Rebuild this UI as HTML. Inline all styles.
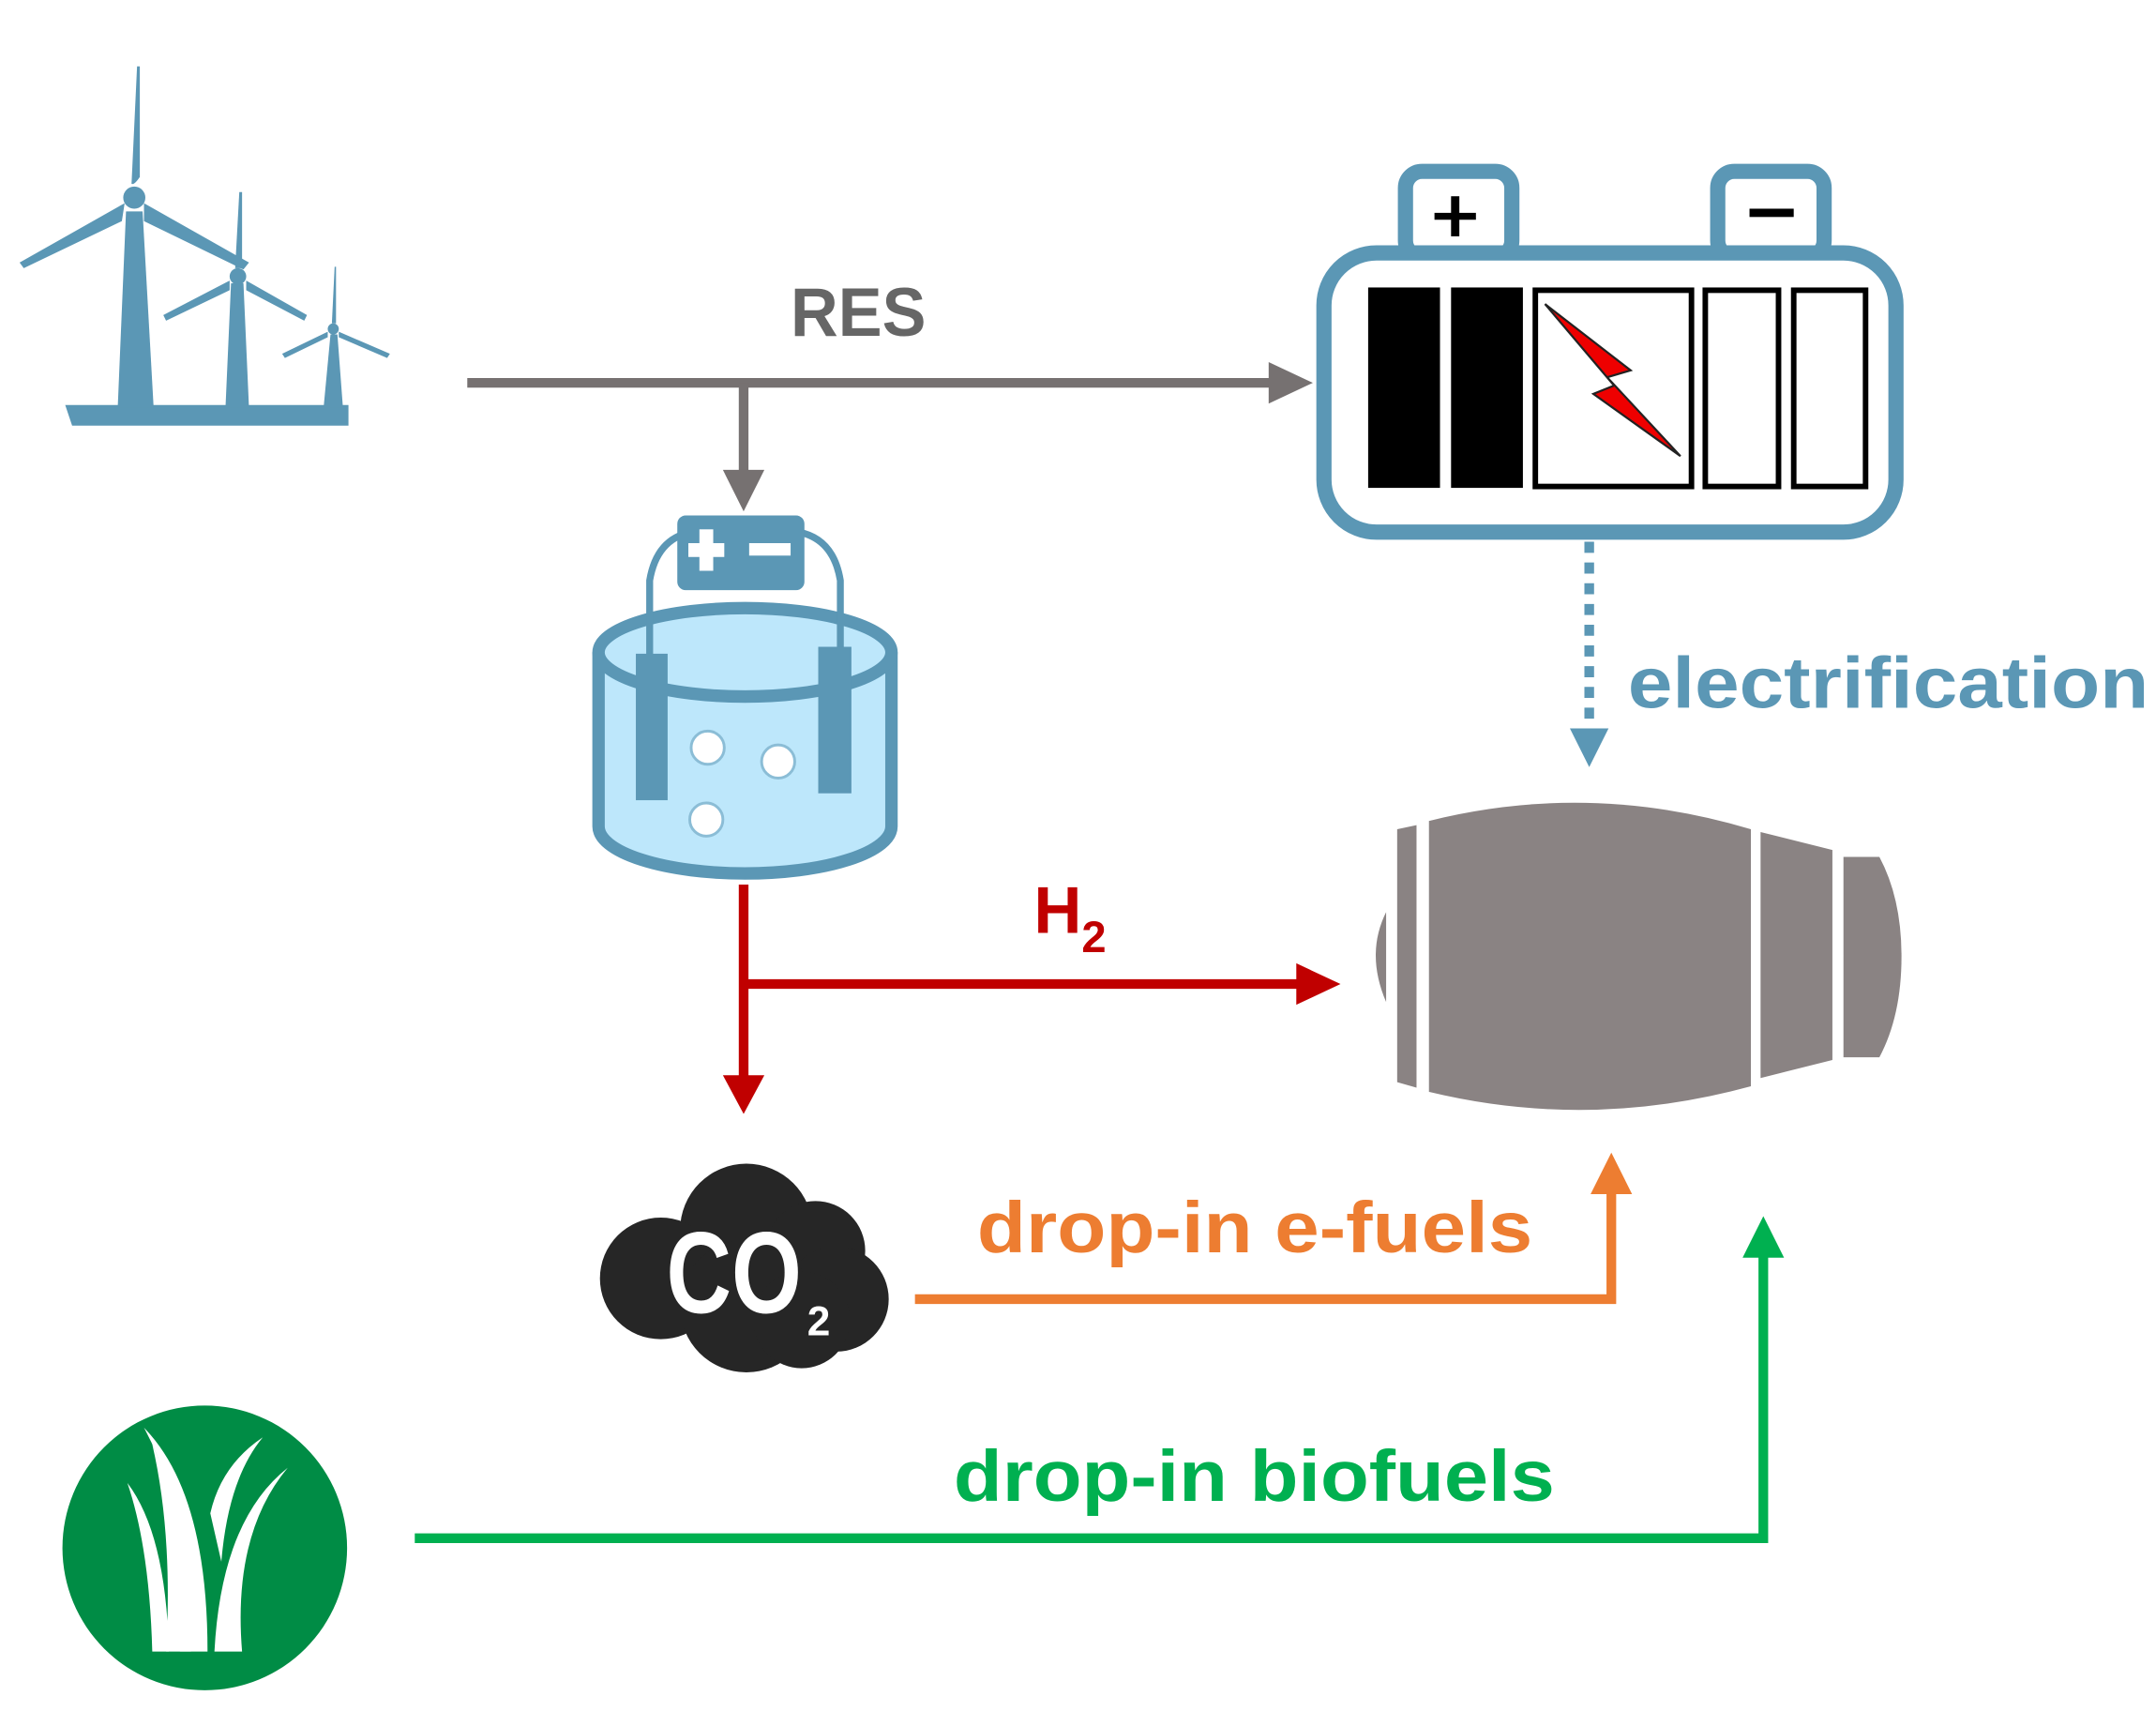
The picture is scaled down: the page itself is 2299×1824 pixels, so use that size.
<!DOCTYPE html>
<html><head><style>html,body{margin:0;padding:0;background:#fff}svg{display:block}</style></head>
<body>
<svg width="2299" height="1824" viewBox="0 0 1560 1238" xmlns="http://www.w3.org/2000/svg" font-family="'Liberation Sans', sans-serif">
<!-- wind turbines -->
<g fill="#5b97b5">
<path d="M47 293 L252 293 L252 308 L52 308 Z"/>
<path d="M91 153 L103 153 L111 295 L85 295 Z"/>
<circle cx="97" cy="143" r="8"/>
<path d="M95 133 L99 48 L101 48 L101 128 Q97 134 95 133 Z"/>
<path d="M90 147 L14 190 L17 194 L88 160 Z"/>
<path d="M104 147 L180 190 L176 195 L104 160 Z"/>
<path d="M167 205 L176 205 L180 295 L163 295 Z"/>
<circle cx="172" cy="200" r="6"/>
<path d="M170 194 L173 139 L175 139 L175 194 Z"/>
<path d="M166 203 L118 228 L120 232 L166 210 Z"/>
<path d="M178 203 L222 228 L220 232 L178 210 Z"/>
<path d="M239 242 L244 242 L248 295 L234 295 Z"/>
<circle cx="241" cy="238" r="4"/>
<path d="M240 234 L242 193 L243 193 L243 234 Z"/>
<path d="M237 240 L204 256 L206 259 L237 244 Z"/>
<path d="M245 240 L282 256 L280 259 L245 244 Z"/>
</g>
<!-- RES arrow -->
<g fill="#767171" stroke="#767171">
<line x1="338" y1="277" x2="925" y2="277" stroke-width="7"/>
<polygon points="918,262 950,277 918,292" stroke="none"/>
<line x1="538" y1="277" x2="538" y2="345" stroke-width="7"/>
<polygon points="523,340 553,340 538,370" stroke="none"/>
</g>
<text x="572" y="243" font-size="50" fill="#666" font-weight="bold" textLength="98" lengthAdjust="spacingAndGlyphs">RES</text>
<!-- battery -->
<g stroke="#5b97b5" stroke-width="11" fill="#fff">
<rect x="1017" y="124" width="77" height="62" rx="12"/>
<rect x="1243" y="124" width="77" height="62" rx="12"/>
<rect x="958" y="183" width="414" height="202" rx="38"/>
</g>
<rect x="1038" y="154" width="30" height="5" fill="#000"/>
<rect x="1050" y="142" width="6" height="29" fill="#000"/>
<rect x="1266" y="151" width="32" height="6" fill="#000"/>
<rect x="990" y="208" width="52" height="145" fill="#000"/>
<rect x="1050" y="208" width="52" height="145" fill="#000"/>
<g fill="#fff" stroke="#000" stroke-width="4">
<rect x="1111" y="210" width="113" height="142"/>
<rect x="1234" y="210" width="53" height="142"/>
<rect x="1298" y="210" width="52" height="142"/>
</g>
<polygon points="1118,220 1180,268 1163,273 1216,330 1153,285 1168,279" fill="#e00" stroke="#222" stroke-width="1.5"/>
<!-- electrification -->
<line x1="1150" y1="392" x2="1150" y2="530" stroke="#5b97b5" stroke-width="7" stroke-dasharray="8 7"/>
<polygon points="1136,527 1164,527 1150,555" fill="#5b97b5"/>
<text x="1178" y="512" font-size="52" fill="#5b97b5" font-weight="bold" textLength="377" lengthAdjust="spacingAndGlyphs">electrification</text>
<!-- electrolyzer -->
<g stroke="#5b97b5" stroke-width="9">
<path d="M433 472 L433 598 A106 34 0 0 0 645 598 L645 472" fill="#bde7fb"/>
<ellipse cx="539" cy="472" rx="106" ry="32" fill="#bde7fb"/>
<path d="M470 505 L470 420 Q475 390 500 385 M608 500 L608 420 Q603 390 578 385" fill="none" stroke-width="5"/>
</g>
<rect x="490" y="373" width="92" height="54" rx="6" fill="#5b97b5"/>
<rect x="498" y="393" width="26" height="10" fill="#fff"/><rect x="506" y="383" width="10" height="30" fill="#fff"/>
<rect x="542" y="393" width="30" height="9" fill="#fff"/>
<rect x="460" y="473" width="23" height="106" fill="#5b97b5"/>
<rect x="592" y="468" width="24" height="106" fill="#5b97b5"/>
<g fill="#fff" stroke="#8bbdd6" stroke-width="2">
<circle cx="512" cy="541" r="12"/><circle cx="563" cy="551" r="12"/><circle cx="511" cy="593" r="12"/>
</g>
<!-- H2 -->
<g fill="#c00000" stroke="#c00000">
<line x1="538" y1="640" x2="538" y2="780" stroke-width="7"/>
<polygon points="523,778 553,778 538,806" stroke="none"/>
<line x1="538" y1="712" x2="945" y2="712" stroke-width="7"/>
<polygon points="938,697 970,712 938,727" stroke="none"/>
</g>
<text x="748" y="675" font-size="48" font-weight="bold" fill="#c00000">H<tspan font-size="32" dy="14">2</tspan></text>
<!-- engine -->
<g fill="#8a8383">
<path d="M1003 660 Q988 690 1003 725 Z"/>
<path d="M1011 600 L1025 597 L1025 787 L1011 783 Z"/>
<path d="M1034 594 Q1150 565 1267 600 L1267 786 Q1150 818 1034 790 Z"/>
<path d="M1274 602 L1326 615 L1326 767 L1274 780 Z"/>
<path d="M1334 620 L1360 620 Q1376 650 1376 692 Q1376 735 1360 765 L1334 765 Z"/>
</g>
<!-- CO2 cloud -->
<g fill="#262626">
<circle cx="540" cy="890" r="48"/><circle cx="590" cy="905" r="36"/><circle cx="605" cy="940" r="38"/>
<circle cx="478" cy="925" r="44"/><circle cx="540" cy="945" r="48"/><circle cx="580" cy="955" r="35"/>
</g>
<text x="0" y="0" font-size="60" font-weight="bold" fill="#fff" transform="translate(482,950) scale(1,1.4)" textLength="98" lengthAdjust="spacingAndGlyphs">CO</text>
<text x="584" y="966" font-size="30" font-weight="bold" fill="#fff">2</text>
<!-- e-fuels -->
<g fill="#ed7d31" stroke="#ed7d31">
<polyline points="662,940 1166,940 1166,860" fill="none" stroke-width="7"/>
<polygon points="1151,864 1181,864 1166,834" stroke="none"/>
</g>
<text x="707" y="906" font-size="52" fill="#ed7d31" font-weight="bold" textLength="402" lengthAdjust="spacingAndGlyphs">drop-in e-fuels</text>
<!-- biofuels -->
<g fill="#00b050" stroke="#00b050">
<polyline points="300,1113 1276,1113 1276,905" fill="none" stroke-width="7"/>
<polygon points="1261,910 1291,910 1276,880" stroke="none"/>
</g>
<text x="690" y="1086" font-size="52" font-weight="bold" fill="#00b050" textLength="435" lengthAdjust="spacingAndGlyphs">drop-in biofuels</text>
<!-- grass -->
<circle cx="148" cy="1120" r="103" fill="#008c45"/>
<g fill="#fff">
<path d="M120 1195 L138 1195 Q140 1110 110 1045 Q125 1110 120 1195 Z"/>
<path d="M130 1195 L150 1195 Q150 1080 104 1033 Q138 1095 130 1195 Z"/>
<path d="M155 1195 L175 1195 Q168 1110 208 1062 Q160 1100 155 1195 Z"/>
<path d="M152 1095 Q160 1060 190 1040 Q165 1070 160 1130 Z"/>
<path d="M92 1073 Q120 1110 122 1195 L110 1195 Q108 1120 92 1073 Z"/>
</g>
</svg>
</body></html>
